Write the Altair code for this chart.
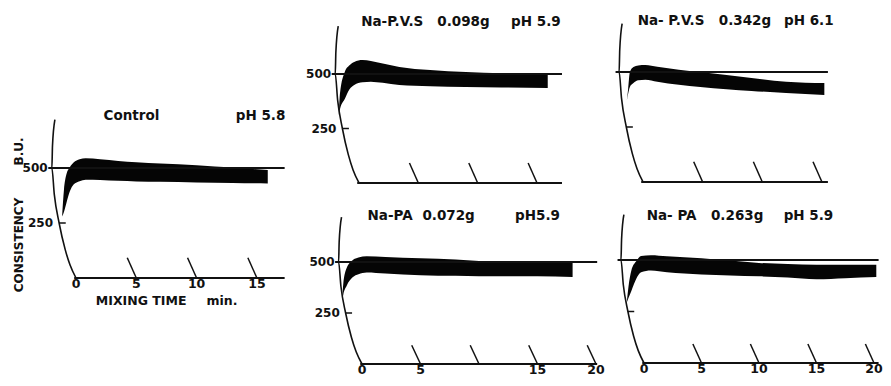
import altair as alt
import pandas as pd
import numpy as np

FONT = "DejaVu Sans"
INK = "#111111"
BAND = "#050505"

# ---------------- data (minutes, Brabender units) ----------------
# recorder pen arc: time offset (min) of the arc at each consistency level
arc_bu = [0, 60, 130, 250, 380, 500, 600, 720]
arc_min = [0.0, -0.5, -0.9, -1.4, -1.8, -2.0, -1.95, -1.75]

# Control pH 5.8
ctrl_t = [-1.15, -1.0, -0.8, -0.5, -0.2, 0.3, 0.8, 2, 3.5, 5, 7, 10, 13, 15.9]
ctrl_hi = [280, 400, 470, 505, 525, 540, 544, 540, 532, 526, 520, 513, 502, 491]
ctrl_lo = [280, 300, 340, 395, 425, 440, 447, 446, 442, 439, 437, 434, 432, 430]

# Na-P.V.S 0.098 g pH 5.9
pvs1_t = [-1.7, -1.6, -1.2, -0.8, -0.4, 0.3, 1.0, 2, 3.4, 6, 9, 12, 15.9]
pvs1_hi = [312, 413, 509, 540, 555, 564, 560, 548, 532, 518, 509, 503, 500]
pvs1_lo = [312, 340, 385, 430, 450, 462, 465, 460, 450, 444, 440, 438, 436]

# Na-P.V.S 0.342 g pH 6.1
pvs2_t = [-1.35, -1.25, -1.1, -0.8, -0.4, 0.2, 1.2, 3, 4.8, 7, 9.1, 12, 15.2]
pvs2_hi = [373, 420, 500, 523, 530, 532, 524, 510, 500, 486, 473, 456, 450]
pvs2_lo = [373, 400, 432, 450, 462, 465, 456, 442, 432, 422, 414, 404, 395]

# Na-PA 0.072 g pH 5.9
pa1_t = [-1.7, -1.6, -1.3, -0.8, -0.3, 0.4, 2, 5, 8, 10, 13, 15, 18]
pa1_hi = [310, 393, 472, 509, 522, 528, 525, 518, 512, 505, 498, 495, 495]
pa1_lo = [310, 340, 385, 425, 440, 449, 444, 435, 432, 430, 430, 430, 426]

# Na-PA 0.263 g pH 5.9
pa2_t = [-1.5, -1.35, -1.1, -0.66, -0.25, 0.6, 2, 5, 7.5, 10, 12.5, 15, 17.5, 20.2]
pa2_hi = [292, 370, 449, 495, 519, 523, 518, 509, 497, 486, 481, 477, 477, 477]
pa2_lo = [292, 315, 350, 410, 440, 449, 440, 430, 425, 421, 415, 407, 412, 417]

ref_levels = [0, 500]
ytick_levels = [500, 250]

panels = [
    dict(key="ctrl", t=ctrl_t, hi=ctrl_hi, lo=ctrl_lo, end=17.3,
         ticks=[5, 10, 15], tlabels=[0, 5, 10, 15], ylabels=True,
         titles=["Control", "pH 5.8"], title_t=[4.6, 15.3], title_bu=736,
         geom=(8, 8, 292, 370, 76, 12.06, 278, 168)),
    dict(key="pvs1", t=pvs1_t, hi=pvs1_hi, lo=pvs1_lo, end=17.1,
         ticks=[5, 10, 15], tlabels=[], ylabels=True,
         titles=["Na-P.V.S", "0.098g", "pH 5.9"], title_t=[2.8, 8.8, 14.9], title_bu=738,
         geom=(300, 8, 307, 185, 359, 11.87, 183, 74)),
    dict(key="pvs2", t=pvs2_t, hi=pvs2_hi, lo=pvs2_lo, end=15.5,
         ticks=[5, 10, 15], tlabels=[], ylabels=False,
         titles=["Na- P.V.S", "0.342g", "pH 6.1"], title_t=[2.35, 8.55, 13.9], title_bu=732,
         geom=(607, 8, 276, 185, 643, 11.93, 182, 72)),
    dict(key="pa1", t=pa1_t, hi=pa1_hi, lo=pa1_lo, end=20.1,
         ticks=[5, 10, 15, 20], tlabels=[0, 5, 15, 20], ylabels=True,
         titles=["Na-PA", "0.072g", "pH5.9"], title_t=[2.4, 7.4, 15.0], title_bu=724,
         geom=(300, 193, 307, 185, 362, 11.7, 364, 262)),
    dict(key="pa2", t=pa2_t, hi=pa2_hi, lo=pa2_lo, end=20.4,
         ticks=[5, 10, 15, 20], tlabels=[0, 5, 10, 15, 20], ylabels=False,
         titles=["Na- PA", "0.263g", "pH 5.9"], title_t=[2.4, 8.1, 14.3], title_bu=712,
         geom=(607, 193, 276, 185, 644, 11.5, 363, 260)),
]


def arc_at(v):
    return float(np.interp(v, arc_bu, arc_min))


def build(p):
    left, top, w, h, x0, pxm, y0, y500 = p["geom"]
    bpp = 500.0 / (y0 - y500)
    xdom = [(left - x0) / pxm, (left + w - x0) / pxm]
    ydom = [-(top + h - y0) * bpp, (y0 - top) * bpp]
    xs = alt.Scale(domain=xdom, nice=False, zero=False)
    ys = alt.Scale(domain=ydom, nice=False, zero=False)

    def X(f):
        return alt.X(f, type="quantitative", scale=xs, axis=None)

    def Y(f):
        return alt.Y(f, type="quantitative", scale=ys, axis=None)

    layers = []
    band = pd.DataFrame({"t": p["t"], "hi": p["hi"], "lo": p["lo"]})
    layers.append(alt.Chart(band).mark_area(color=BAND, interpolate="monotone", clip=True)
                  .encode(x=X("t"), y=Y("hi"), y2="lo"))

    arc = pd.DataFrame({"m": arc_min, "bu": arc_bu, "i": list(range(len(arc_bu)))})
    layers.append(alt.Chart(arc).mark_line(color=INK, strokeWidth=1.6, interpolate="monotone")
                  .encode(x=X("m"), y=Y("bu"), order="i:Q"))

    refs = pd.DataFrame({
        "a": [(-0.15 if v == 0 else arc_at(v) - 0.3) for v in ref_levels],
        "b": [p["end"]] * len(ref_levels),
        "v": ref_levels,
    })
    layers.append(alt.Chart(refs).mark_rule(color=INK, strokeWidth=1.8, clip=True)
                  .encode(x=X("a"), x2="b", y=Y("v")))

    t250 = pd.DataFrame({"a": [arc_at(250)], "b": [arc_at(250) + 0.55], "v": [250]})
    layers.append(alt.Chart(t250).mark_rule(color=INK, strokeWidth=1.5)
                  .encode(x=X("a"), x2="b", y=Y("v")))

    tk = pd.DataFrame({"t": p["ticks"], "t2": [v - 0.75 for v in p["ticks"]],
                       "y": [0] * len(p["ticks"]), "y2": [92] * len(p["ticks"])})
    layers.append(alt.Chart(tk).mark_rule(color=INK, strokeWidth=1.5)
                  .encode(x=X("t"), x2="t2", y=Y("y"), y2="y2"))

    if p["tlabels"]:
        tl = pd.DataFrame({"t": p["tlabels"], "y": [0] * len(p["tlabels"]),
                           "s": [str(v) for v in p["tlabels"]]})
        layers.append(alt.Chart(tl).mark_text(font=FONT, fontWeight="bold", fontSize=12.5,
                                              color=INK, baseline="top", dy=0)
                      .encode(x=X("t"), y=Y("y"), text="s:N"))

    if p["ylabels"]:
        yl = pd.DataFrame({"x": [arc_at(v) - (0.35 if v == 500 else 0.5) for v in ytick_levels],
                           "v": ytick_levels, "s": [str(v) for v in ytick_levels]})
        layers.append(alt.Chart(yl).mark_text(font=FONT, fontWeight="bold", fontSize=12,
                                              color=INK, align="right", baseline="middle")
                      .encode(x=X("x"), y=Y("v"), text="s:N"))

    tt = pd.DataFrame({"x": p["title_t"], "y": [p["title_bu"]] * len(p["titles"]), "s": p["titles"]})
    layers.append(alt.Chart(tt).mark_text(font=FONT, fontWeight="bold", fontSize=13.5,
                                          color=INK, baseline="middle")
                  .encode(x=X("x"), y=Y("y"), text="s:N"))

    if p["key"] == "ctrl":
        ex = pd.DataFrame({"x": [5.4, 12.1], "y": [-103, -103], "s": ["MIXING TIME", "min."]})
        layers.append(alt.Chart(ex).mark_text(font=FONT, fontWeight="bold", fontSize=12.5,
                                              color=INK, baseline="middle")
                      .encode(x=X("x"), y=Y("y"), text="s:N"))
        yt = pd.DataFrame({"x": [-4.73, -4.73], "y": [150, 575], "s": ["CONSISTENCY", "B.U."]})
        layers.append(alt.Chart(yt).mark_text(font=FONT, fontWeight="bold", fontSize=12,
                                              color=INK, baseline="middle", angle=270)
                      .encode(x=X("x"), y=Y("y"), text="s:N"))

    return alt.layer(*layers).properties(width=w, height=h)


charts = {p["key"]: build(p) for p in panels}

right = alt.vconcat(
    alt.hconcat(charts["pvs1"], charts["pvs2"], spacing=0),
    alt.hconcat(charts["pa1"], charts["pa2"], spacing=0),
    spacing=0,
)
chart = alt.hconcat(charts["ctrl"], right, spacing=0, padding=0).configure_view(stroke=None)

chart.save("out.html", embed_options={"renderer": "svg", "actions": False})
